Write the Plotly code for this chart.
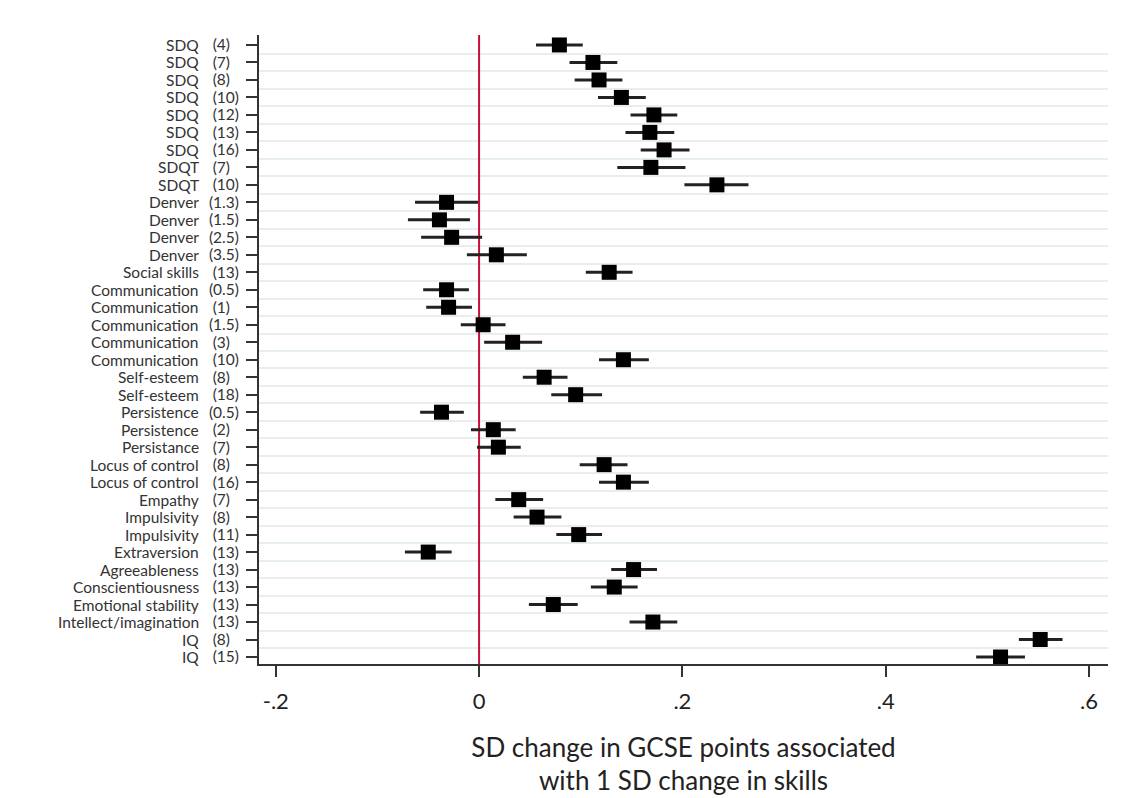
import plotly.graph_objects as go

names = ["SDQ", "SDQ", "SDQ", "SDQ", "SDQ", "SDQ", "SDQ", "SDQT", "SDQT",
         "Denver", "Denver", "Denver", "Denver", "Social skills",
         "Communication", "Communication", "Communication", "Communication", "Communication",
         "Self-esteem", "Self-esteem", "Persistence", "Persistence", "Persistance",
         "Locus of control", "Locus of control", "Empathy", "Impulsivity", "Impulsivity",
         "Extraversion", "Agreeableness", "Conscientiousness", "Emotional stability",
         "Intellect/imagination", "IQ", "IQ"]
ages = ["4", "7", "8", "10", "12", "13", "16", "7", "10",
        "1.3", "1.5", "2.5", "3.5", "13",
        "0.5", "1", "1.5", "3", "10",
        "8", "18", "0.5", "2", "7",
        "8", "16", "7", "8", "11",
        "13", "13", "13", "13",
        "13", "8", "15"]
est = [0.079, 0.112, 0.118, 0.140, 0.172, 0.168, 0.182, 0.169, 0.234,
       -0.032, -0.039, -0.027, 0.017, 0.128,
       -0.032, -0.030, 0.004, 0.033, 0.142,
       0.064, 0.095, -0.037, 0.014, 0.019,
       0.123, 0.142, 0.039, 0.057, 0.098,
       -0.050, 0.152, 0.133, 0.073,
       0.171, 0.552, 0.513]
lo = [0.056, 0.089, 0.094, 0.117, 0.149, 0.144, 0.159, 0.136, 0.202,
      -0.063, -0.070, -0.057, -0.012, 0.105,
      -0.055, -0.052, -0.018, 0.005, 0.118,
      0.043, 0.071, -0.058, -0.008, -0.002,
      0.099, 0.118, 0.016, 0.034, 0.076,
      -0.073, 0.130, 0.110, 0.049,
      0.148, 0.531, 0.489]
hi = [0.102, 0.136, 0.141, 0.164, 0.195, 0.192, 0.207, 0.203, 0.265,
      -0.001, -0.009, 0.003, 0.047, 0.151,
      -0.010, -0.007, 0.026, 0.062, 0.167,
      0.087, 0.121, -0.015, 0.036, 0.041,
      0.146, 0.167, 0.063, 0.081, 0.121,
      -0.027, 0.175, 0.156, 0.097,
      0.195, 0.574, 0.537]
xticks = [-0.2, 0, 0.2, 0.4, 0.6]
xticklabels = ["-.2", "0", ".2", ".4", ".6"]

rows = list(range(1, len(names) + 1))
YMIN, YMAX = 0.43, 36.4
FONT = "Lato"
FIG = "\u2007"

ticktext = ["(" + a + ")" + (FIG if len(a) == 1 else "") for a in ages]

fig = go.Figure()
# reference line at zero
fig.add_trace(go.Scatter(
    x=[0, 0], y=[YMIN, YMAX], mode="lines",
    line=dict(color="#c8103a", width=2), showlegend=False, hoverinfo="skip",
))
fig.add_trace(go.Scatter(
    x=est, y=rows, mode="markers",
    marker=dict(symbol="square", size=15, color="black"),
    error_x=dict(type="data", symmetric=False,
                 array=[h - e for h, e in zip(hi, est)],
                 arrayminus=[e - l for e, l in zip(est, lo)],
                 thickness=3, width=0, color="#222222"),
    showlegend=False, cliponaxis=False,
))

for r, n in zip(rows, names):
    fig.add_annotation(x=-0.068, xref="paper", y=r, yref="y", text=n,
                       showarrow=False, xanchor="right", yanchor="middle",
                       font=dict(family=FONT, size=15.5, color="#333333"))

fig.update_layout(
    width=1128, height=798,
    margin=dict(l=259, r=20, t=35, b=134),
    paper_bgcolor="white", plot_bgcolor="white",
    font=dict(family=FONT, color="#222222"),
)
fig.update_xaxes(
    range=[-0.2165, 0.6187], tickvals=xticks, ticktext=xticklabels,
    showgrid=False, zeroline=False, automargin=False,
    showline=True, linecolor="#333333", linewidth=2,
    ticks="outside", ticklen=11, tickwidth=2, tickcolor="#333333",
    ticklabelstandoff=6,
    tickfont=dict(family=FONT, size=22, color="#222222"),
    title=dict(text="SD change in GCSE points associated<br>with 1 SD change in skills",
               font=dict(family=FONT, size=26, color="#222222"), standoff=25),
)
fig.update_yaxes(
    range=[YMAX, YMIN], tickvals=rows, ticktext=ticktext,
    showgrid=False, zeroline=False, automargin=False,
    showline=True, linecolor="#333333", linewidth=2,
    ticks="outside", ticklen=11, tickwidth=2, tickcolor="#333333",
    ticklabelstandoff=4,
    tickfont=dict(family=FONT, size=15.5, color="#333333"),
    minor=dict(tickvals=[r + 0.5 for r in rows[:-1]], showgrid=True,
               gridcolor="#e6eef2", gridwidth=2, ticklen=0),
)

fig.write_html("out.html")
